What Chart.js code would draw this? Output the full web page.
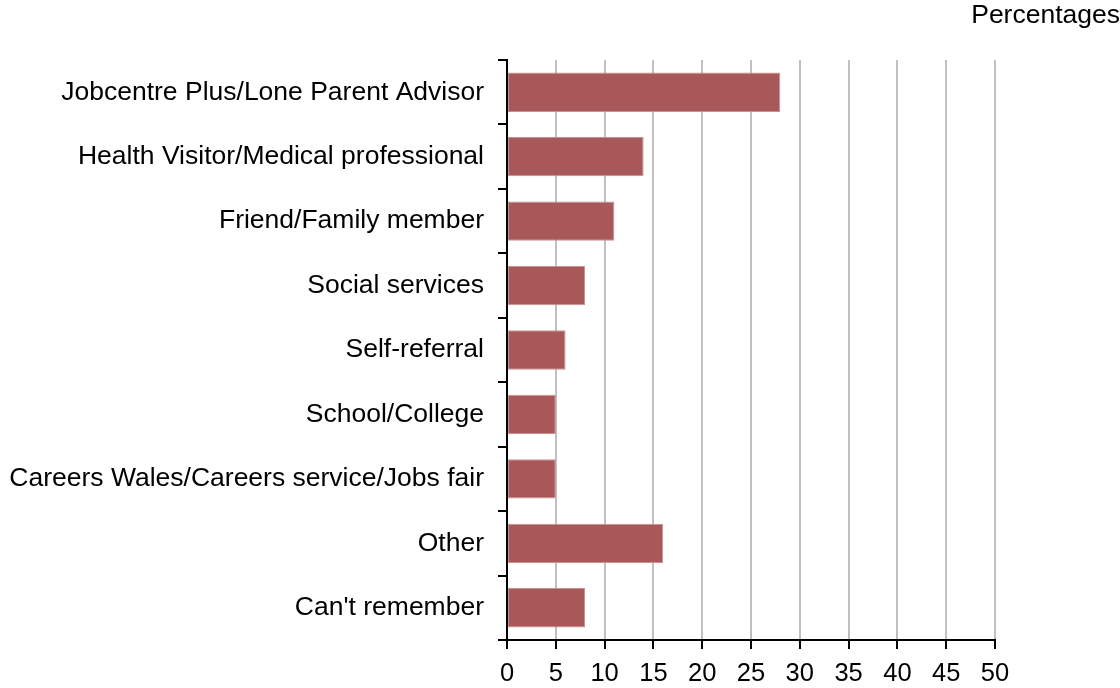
<!DOCTYPE html>
<html>
<head>
<meta charset="utf-8">
<style>
  html, body { margin: 0; padding: 0; background: #ffffff; }
  #wrap { width: 1120px; height: 688px; }
</style>
<script src="https://cdn.jsdelivr.net/npm/chart.js@4/dist/chart.umd.min.js"></script>
</head>
<body>
<div id="wrap"><canvas id="chart" width="1120" height="688"></canvas></div>
<script>
// Source of referral, percentages
const categories = [
  'Jobcentre Plus/Lone Parent Advisor',
  'Health Visitor/Medical professional',
  'Friend/Family member',
  'Social services',
  'Self-referral',
  'School/College',
  'Careers Wales/Careers service/Jobs fair',
  'Other',
  "Can't remember"
];
const percentages = [28, 14, 11, 8, 6, 5, 5, 16, 8];
const xTicks = [0, 5, 10, 15, 20, 25, 30, 35, 40, 45, 50];
const unitLabel = 'Percentages';

const FONT = "'Liberation Sans', Arial, sans-serif";

// Unit caption in the top-right corner
const unitCaption = {
  id: 'unitCaption',
  afterDraw(chart) {
    const ctx = chart.ctx;
    ctx.save();
    ctx.font = '26.5px ' + FONT;
    ctx.fillStyle = '#000000';
    ctx.textAlign = 'right';
    ctx.textBaseline = 'alphabetic';
    ctx.fillText(unitLabel, 1120, 23);
    ctx.restore();
  }
};

new Chart(document.getElementById('chart'), {
  type: 'bar',
  data: {
    labels: categories,
    datasets: [{
      data: percentages,
      backgroundColor: '#A85858',
      borderColor: '#C99090',
      borderWidth: 1,
      borderSkipped: false,
      barPercentage: 0.61,
      categoryPercentage: 1.0
    }]
  },
  options: {
    indexAxis: 'y',
    responsive: false,
    animation: false,
    devicePixelRatio: 1,
    layout: { padding: { top: 60, right: 125, bottom: 0, left: 0 } },
    plugins: {
      legend: { display: false },
      tooltip: { enabled: false },
      title: { display: false }
    },
    scales: {
      x: {
        type: 'linear',
        min: 0,
        max: 50,
        afterBuildTicks(scale) {
          scale.ticks = xTicks.map(v => ({ value: v }));
        },
        afterFit(scale) { scale.height = 48; },
        grid: {
          color: c => (c.tick && c.tick.value === 0) ? 'rgba(0,0,0,0)' : '#C0C0C0',
          tickColor: '#000000',
          lineWidth: 2,
          tickLength: 9,
          drawTicks: true
        },
        border: { display: true, color: '#000000', width: 2 },
        ticks: {
          color: '#000000',
          font: { family: FONT, size: 25.5 },
          padding: 10,
          maxRotation: 0,
          autoSkip: false
        }
      },
      y: {
        afterFit(scale) { scale.width = 507; },
        grid: {
          drawOnChartArea: false,
          drawTicks: true,
          offset: true,
          tickLength: 9,
          tickColor: '#000000',
          lineWidth: 2
        },
        border: { display: true, color: '#000000', width: 2 },
        ticks: {
          color: '#000000',
          font: { family: FONT, size: 26.5 },
          padding: 14,
          autoSkip: false
        }
      }
    }
  },
  plugins: [unitCaption]
});
</script>
</body>
</html>
